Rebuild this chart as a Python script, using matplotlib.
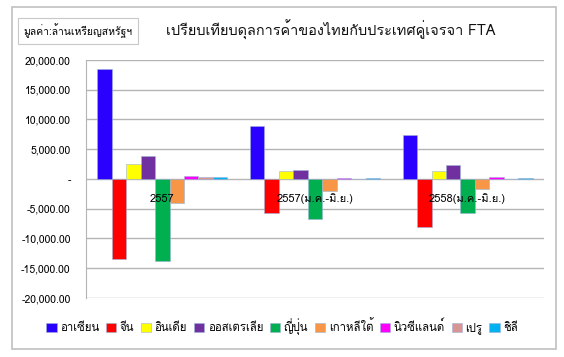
import numpy as np
import matplotlib
matplotlib.use("Agg")
import matplotlib.pyplot as plt
from matplotlib.patches import Rectangle
from matplotlib.ticker import FuncFormatter

plt.rcParams['font.family'] = ['Loma', 'DejaVu Sans']

# data (million USD)
periods = ['2557', '2557(ม.ค.-มิ.ย.)', '2558(ม.ค.-มิ.ย.)']
partners = ['อาเซียน', 'จีน', 'อินเดีย', 'ออสเตรเลีย', 'ญี่ปุ่น',
            'เกาหลีใต้', 'นิวซีแลนด์', 'เปรู', 'ชิลี']
asean = [18420, 8920, 7470]
china = [-13470, -5720, -8020]
india = [2530, 1350, 1410]
australia = [3870, 1520, 2420]
japan = [-13860, -6790, -5780]
korea = [-4090, -1970, -1620]
nz = [450, 200, 250]
peru = [280, 50, 60]
chile = [250, 150, 150]
series = [asean, china, india, australia, japan, korea, nz, peru, chile]
colors = ['#2A00FF', '#FF0000', '#FFFF00', '#7030A0', '#00B050',
          '#F79646', '#FF00FF', '#D99594', '#00B0F0']

fig = plt.figure(figsize=(5.64, 3.57), dpi=100)
ax = fig.add_axes([0.1525, 0.1653, 0.812, 0.6667])

x = np.arange(len(periods))
w = 0.851 / len(series)
for i, (vals, c) in enumerate(zip(series, colors)):
    ax.bar(x - 0.4255 + w * (i + 0.5), vals, w, color=c, label=partners[i],
           edgecolor='#9db3d6', linewidth=0.4, zorder=3)

ax.set_xlim(-0.5, 2.5)
ax.set_ylim(-20000, 20000)
ax.set_yticks(np.arange(-20000, 20001, 5000))
ax.yaxis.set_major_formatter(FuncFormatter(lambda v, p: '-' if v == 0 else f'{v:,.2f}'))
ax.set_xticks([])
ax.tick_params(axis='y', length=0, pad=11, labelsize=7.5)
ax.grid(axis='y', color='#b4b4b4', lw=1, zorder=0)
for s in ['top', 'right', 'bottom']:
    ax.spines[s].set_visible(False)
ax.spines['left'].set_color('#b4b4b4')

# category labels sit on the zero line
for i, lab in enumerate(periods):
    ax.annotate(lab, (i, 0), xytext=(0, -10.5), textcoords='offset points',
                ha='center', va='top', fontsize=8, zorder=5)

fig.legend(loc='center', bbox_to_anchor=(0.5, 0.084), ncol=9, frameon=False,
           fontsize=8.2, handlelength=0.9, handleheight=0.9, handletextpad=0.3,
           columnspacing=0.6, borderpad=0)

fig.text(0.138, 0.913, 'มูลค่า:ล้านเหรียญสหรัฐฯ', ha='center', va='center', fontsize=7.5,
         bbox=dict(boxstyle='square,pad=0.5', fc='white', ec='#c8c8c8', lw=0.8))
fig.text(0.587, 0.916, 'เปรียบเทียบดุลการค้าของไทยกับประเทศคู่เจรจา FTA',
         ha='center', va='center', fontsize=10.4, color='#111111')

fig.patches.append(Rectangle((0.0213, 0.0224), 0.9645, 0.958, transform=fig.transFigure,
                             fill=False, ec='#c0c0c0', lw=1.2))

fig.savefig('out.png', dpi=100)
